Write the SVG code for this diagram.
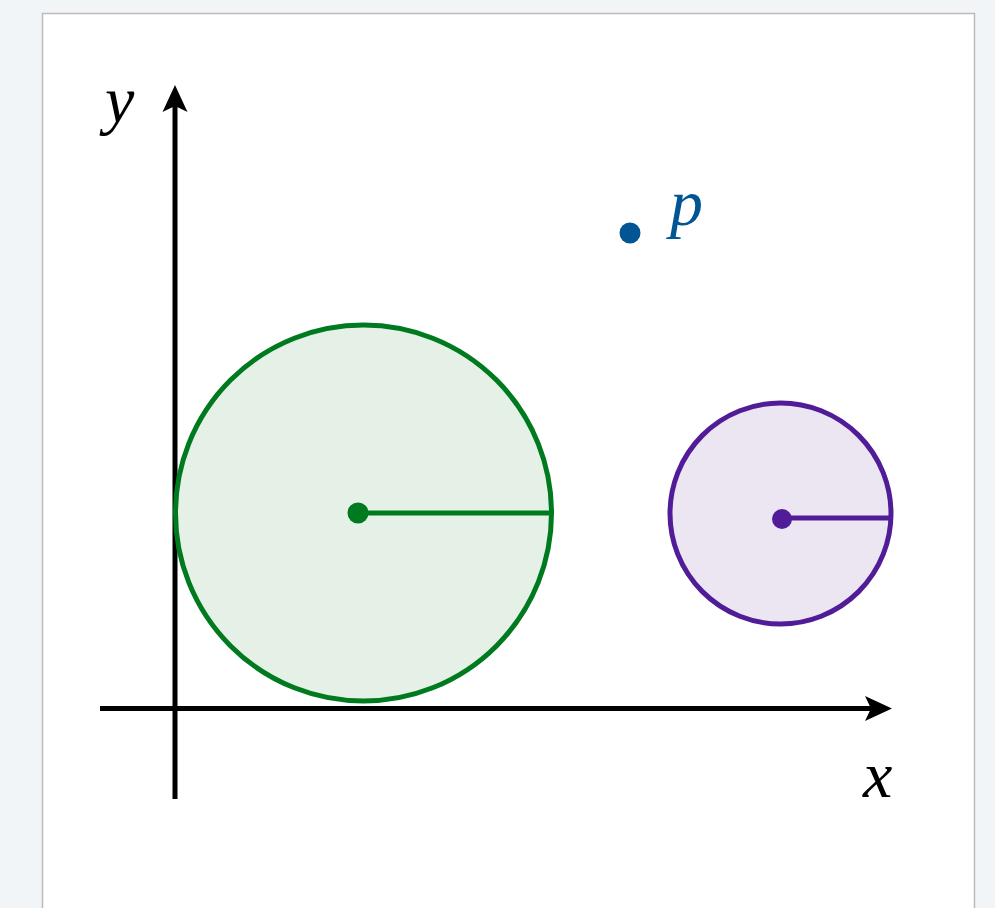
<svg xmlns="http://www.w3.org/2000/svg" width="995" height="908" viewBox="0 0 995 908">
<style>
.lbl{font-family:"Liberation Serif","Times New Roman",serif;font-style:italic;font-size:66px}
.axis{stroke:#000;stroke-width:5;fill:none}
.head{fill:#000}
</style>
<rect x="0" y="0" width="995" height="908" fill="#f2f5f8"/>
<rect x="42.5" y="13.5" width="932" height="900" fill="#fff" stroke="#bbbbbb" stroke-width="1.5"/>
<g id="connectors">
<line class="axis" x1="100" y1="708.5" x2="875" y2="708.5"/>
<path class="head" d="M892,708.5 L865,696 L871,708.5 L865,721 Z"/>
<line class="axis" x1="175" y1="799" x2="175" y2="102"/>
<path class="head" d="M175,85 L162.5,112 L175,106 L187.5,112 Z"/>
</g>
<g id="green-circle">
<circle cx="363.5" cy="513" r="188" fill="#e5f1e7" stroke="#007a1f" stroke-width="5"/>
<line x1="358" y1="513" x2="551" y2="513" stroke="#007a1f" stroke-width="5"/>
<circle cx="358" cy="513" r="10.5" fill="#007a1f"/>
</g>
<g id="purple-circle">
<circle cx="780.5" cy="513.5" r="110.5" fill="#ece6f3" stroke="#511c97" stroke-width="5"/>
<line x1="782" y1="518" x2="889" y2="518" stroke="#511c97" stroke-width="5"/>
<circle cx="782" cy="519" r="10" fill="#511c97"/>
</g>
<g id="point-p">
<circle cx="630" cy="233" r="10.5" fill="#005592"/>
<text class="lbl" x="670" y="225" fill="#005592">p</text>
</g>
<g id="label-y"><text class="lbl" x="105" y="122" fill="#000">y</text></g>
<g id="label-x"><text class="lbl" x="863" y="797" fill="#000">x</text></g>
</svg>
